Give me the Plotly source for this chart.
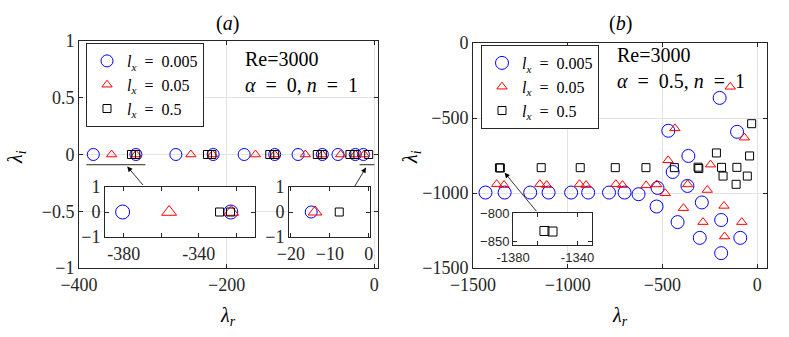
import plotly.graph_objects as go

W, H = 789, 337

# panel (a): all eigenvalues lie on the real axis
a_blue_x = [-380.6, -322.9, -268.8, -218.3, -176.3, -134.9, -103.3, -70.4, -49.2, -25.8, -14.8]
a_red_x = [-355.8, -322.7, -248.5, -219.0, -161.0, -135.0, -93.4, -70.4, -45.6, -25.6, -13.8]
a_black_x = [-328.9, -323.1, -226.0, -220.0, -141.6, -134.9, -77.2, -70.4, -33.0, -26.4, -7.6]

# panel (b)
b_blue_x = [-1434, -1333, -1198, -1101, -982, -892, -782, -700, -626, -526, -531,
            -469, -446, -420, -363, -368, -292, -303, -198, -190, -190, -106, -89]
b_blue_y = [-997, -997, -997, -997, -997, -997, -997, -997, -1008, -966, -1090,
            -585, -860, -1194, -753, -953, -1063, -1299, -366, -1180, -1401, -592, -1299]
b_red_x = [-1375, -1336, -1147, -1111, -938, -903, -746, -711, -586, -530, -485,
           -470, -434, -389, -367, -286, -263, -246, -175, -172, -142, -81, -67]
b_red_y = [-941, -947, -941, -947, -941, -947, -941, -947, -949, -943, -1002,
           -782, -569, -1101, -943, -1194, -980, -811, -1086, -1290, -292, -1194, -631]
b_black_x = [-1360.5, -1355.5, -1140, -934, -749, -587, -437, -312, -308,
             -215, -188, -180, -107, -111, -52, -40, -29]
b_black_y = [-832, -833, -831, -831, -831, -831, -831, -828, -837,
             -733, -829, -887, -829, -942, -887, -753, -538]

EQ = '\u2002=\u2002'
labels = ['<i>l</i><sub><i>x</i></sub>' + EQ + '0.005', '<i>l</i><sub><i>x</i></sub>' + EQ + '0.05',
          '<i>l</i><sub><i>x</i></sub>' + EQ + '0.5']
colors = ['#0000ff', '#ff0000', '#000000']
symbols = ['circle-open', 'triangle-up-open', 'square-open']

SERIF = 'Liberation Serif'
AX = '#262626'


def px(x):
    return x / W


def py(y):
    return 1 - y / H


fig = go.Figure()


def add_series(xs, ys, xa, ya, sizes, legend=None):
    for i in range(3):
        fig.add_trace(go.Scatter(
            x=xs[i], y=ys[i], mode='markers', xaxis=xa, yaxis=ya,
            name=labels[i], showlegend=legend is not None,
            legend=legend or 'legend',
            marker=dict(symbol=symbols[i], size=sizes[i], color=colors[i],
                        line=dict(width=1, color=colors[i]))
        ))


a_xs = [a_blue_x, a_red_x, a_black_x]
a_ys = [[0] * len(a_blue_x), [0] * len(a_red_x), [0] * len(a_black_x)]
b_xs = [b_blue_x, b_red_x, b_black_x]
b_ys = [b_blue_y, b_red_y, b_black_y]

add_series(a_xs, a_ys, 'x', 'y', [12, 9, 8], legend='legend')
add_series(b_xs, b_ys, 'x2', 'y2', [13, 9, 8], legend='legend2')
add_series(a_xs, a_ys, 'x3', 'y3', [14, 13, 8])
add_series(a_xs, a_ys, 'x4', 'y4', [12, 12, 8])
add_series(b_xs, b_ys, 'x5', 'y5', [13, 9, 9])


def main_axis(domain, rng, tickvals, anchor, grid=True, size=18, family=SERIF):
    return dict(domain=domain, range=rng, tickvals=tickvals, anchor=anchor,
                automargin=False,
                showgrid=grid, gridcolor='#e3e3e3', gridwidth=1, zeroline=False,
                showline=True, linecolor=AX, linewidth=1, mirror='ticks',
                ticks='inside', ticklen=4, tickcolor=AX,
                tickfont=dict(family=family, size=size, color=AX))


lay = dict(
    width=W, height=H, margin=dict(l=0, r=0, t=0, b=0, autoexpand=False),
    paper_bgcolor='white', plot_bgcolor='white', showlegend=True,
    font=dict(family=SERIF, size=18, color='black'),
)
lay['xaxis'] = main_axis([px(79), px(378)], [-400, 5], [-400, -200, 0], 'y')
lay['yaxis'] = main_axis([py(268), py(41)], [-1, 1], [-1, -0.5, 0, 0.5, 1], 'x')
lay['xaxis2'] = main_axis([px(473), px(767)], [-1500, 52], [-1500, -1000, -500, 0], 'y2')
lay['yaxis2'] = main_axis([py(268), py(43)], [-1500, 0], [-1500, -1000, -500, 0], 'x2')

lay['xaxis3'] = main_axis([px(105), px(255)], [-390, -310], [-380, -360, -340, -320], 'y3', grid=False)
lay['xaxis3']['ticktext'] = ['-380', '', '-340', '']
lay['yaxis3'] = main_axis([py(237), py(187)], [-1, 1], [-1, 0, 1], 'x3', grid=False)
lay['xaxis4'] = main_axis([px(289), px(370)], [-20.5, 0.3], [-20, -10, 0], 'y4', grid=False)
lay['yaxis4'] = main_axis([py(237), py(187)], [-1, 1], [-1, 0, 1], 'x4', grid=False)
lay['xaxis5'] = main_axis([px(513), px(592)], [-1380, -1331], [-1380, -1365, -1340], 'y5',
                          grid=False, size=13, family='Liberation Sans')
lay['xaxis5']['ticktext'] = ['-1380', '', '-1340']
lay['yaxis5'] = main_axis([py(245), py(213)], [-857, -800], [-850, -800], 'x5',
                          grid=False, size=13, family='Liberation Sans')

leg = dict(xanchor='left', yanchor='top', bgcolor='white', bordercolor=AX, borderwidth=1,
           font=dict(family=SERIF, size=16, color='black'), tracegroupgap=0)
lay['legend'] = dict(leg, x=px(86), y=py(43))
lay['legend2'] = dict(leg, x=px(481), y=py(45))


def label(text, x, y, size=20, **kw):
    return dict(text=text, x=px(x), y=py(y), xref='paper', yref='paper', showarrow=False,
                xanchor=kw.pop('xanchor', 'center'), yanchor=kw.pop('yanchor', 'middle'),
                font=dict(size=size), **kw)


annotations = [
    label('(<i>a</i>)', 228, 23),
    label('(<i>b</i>)', 620, 23),
    label('<i>λ<sub>r</sub></i>', 228, 316),
    label('<i>λ<sub>r</sub></i>', 620, 316),
    label('<i>λ<sub>i</sub></i>', 16, 157, textangle=-90),
    label('<i>λ<sub>i</sub></i>', 411, 157, textangle=-90),
    label('Re=3000<br><i>α</i>' + EQ + '0, <i>n</i>' + EQ + '1', 243, 46,
          xanchor='left', yanchor='top', align='left'),
    label('Re=3000<br><i>α</i>' + EQ + '0.5, <i>n</i>' + EQ + '1', 615, 42,
          xanchor='left', yanchor='top', align='left'),
    # zoom arrows
    dict(text='', x=-334.6, y=-0.106, xref='x', yref='y', ax=17, ay=20, showarrow=True,
         arrowhead=2, arrowsize=1.3, arrowwidth=0.8, arrowcolor='black'),
    dict(text='', x=-11.3, y=-0.115, xref='x', yref='y', ax=-12, ay=20, showarrow=True,
         arrowhead=2, arrowsize=1.3, arrowwidth=0.8, arrowcolor='black'),
    dict(text='', x=-1333, y=-865, xref='x2', yref='y2', ax=33, ay=40, showarrow=True,
         arrowhead=2, arrowsize=1.3, arrowwidth=0.8, arrowcolor='black'),
]
lay['annotations'] = annotations
lay['shapes'] = [
    dict(type='line', xref='x', yref='y', x0=-390, x1=-310, y0=-0.09, y1=-0.09,
         line=dict(color=AX, width=1)),
    dict(type='line', xref='x', yref='y', x0=-20, x1=0, y0=-0.09, y1=-0.09,
         line=dict(color=AX, width=1)),
]

fig.update_layout(**lay)
fig.write_html("out.html", config={'displayModeBar': False},
               post_script="document.body.style.margin='0px';")
